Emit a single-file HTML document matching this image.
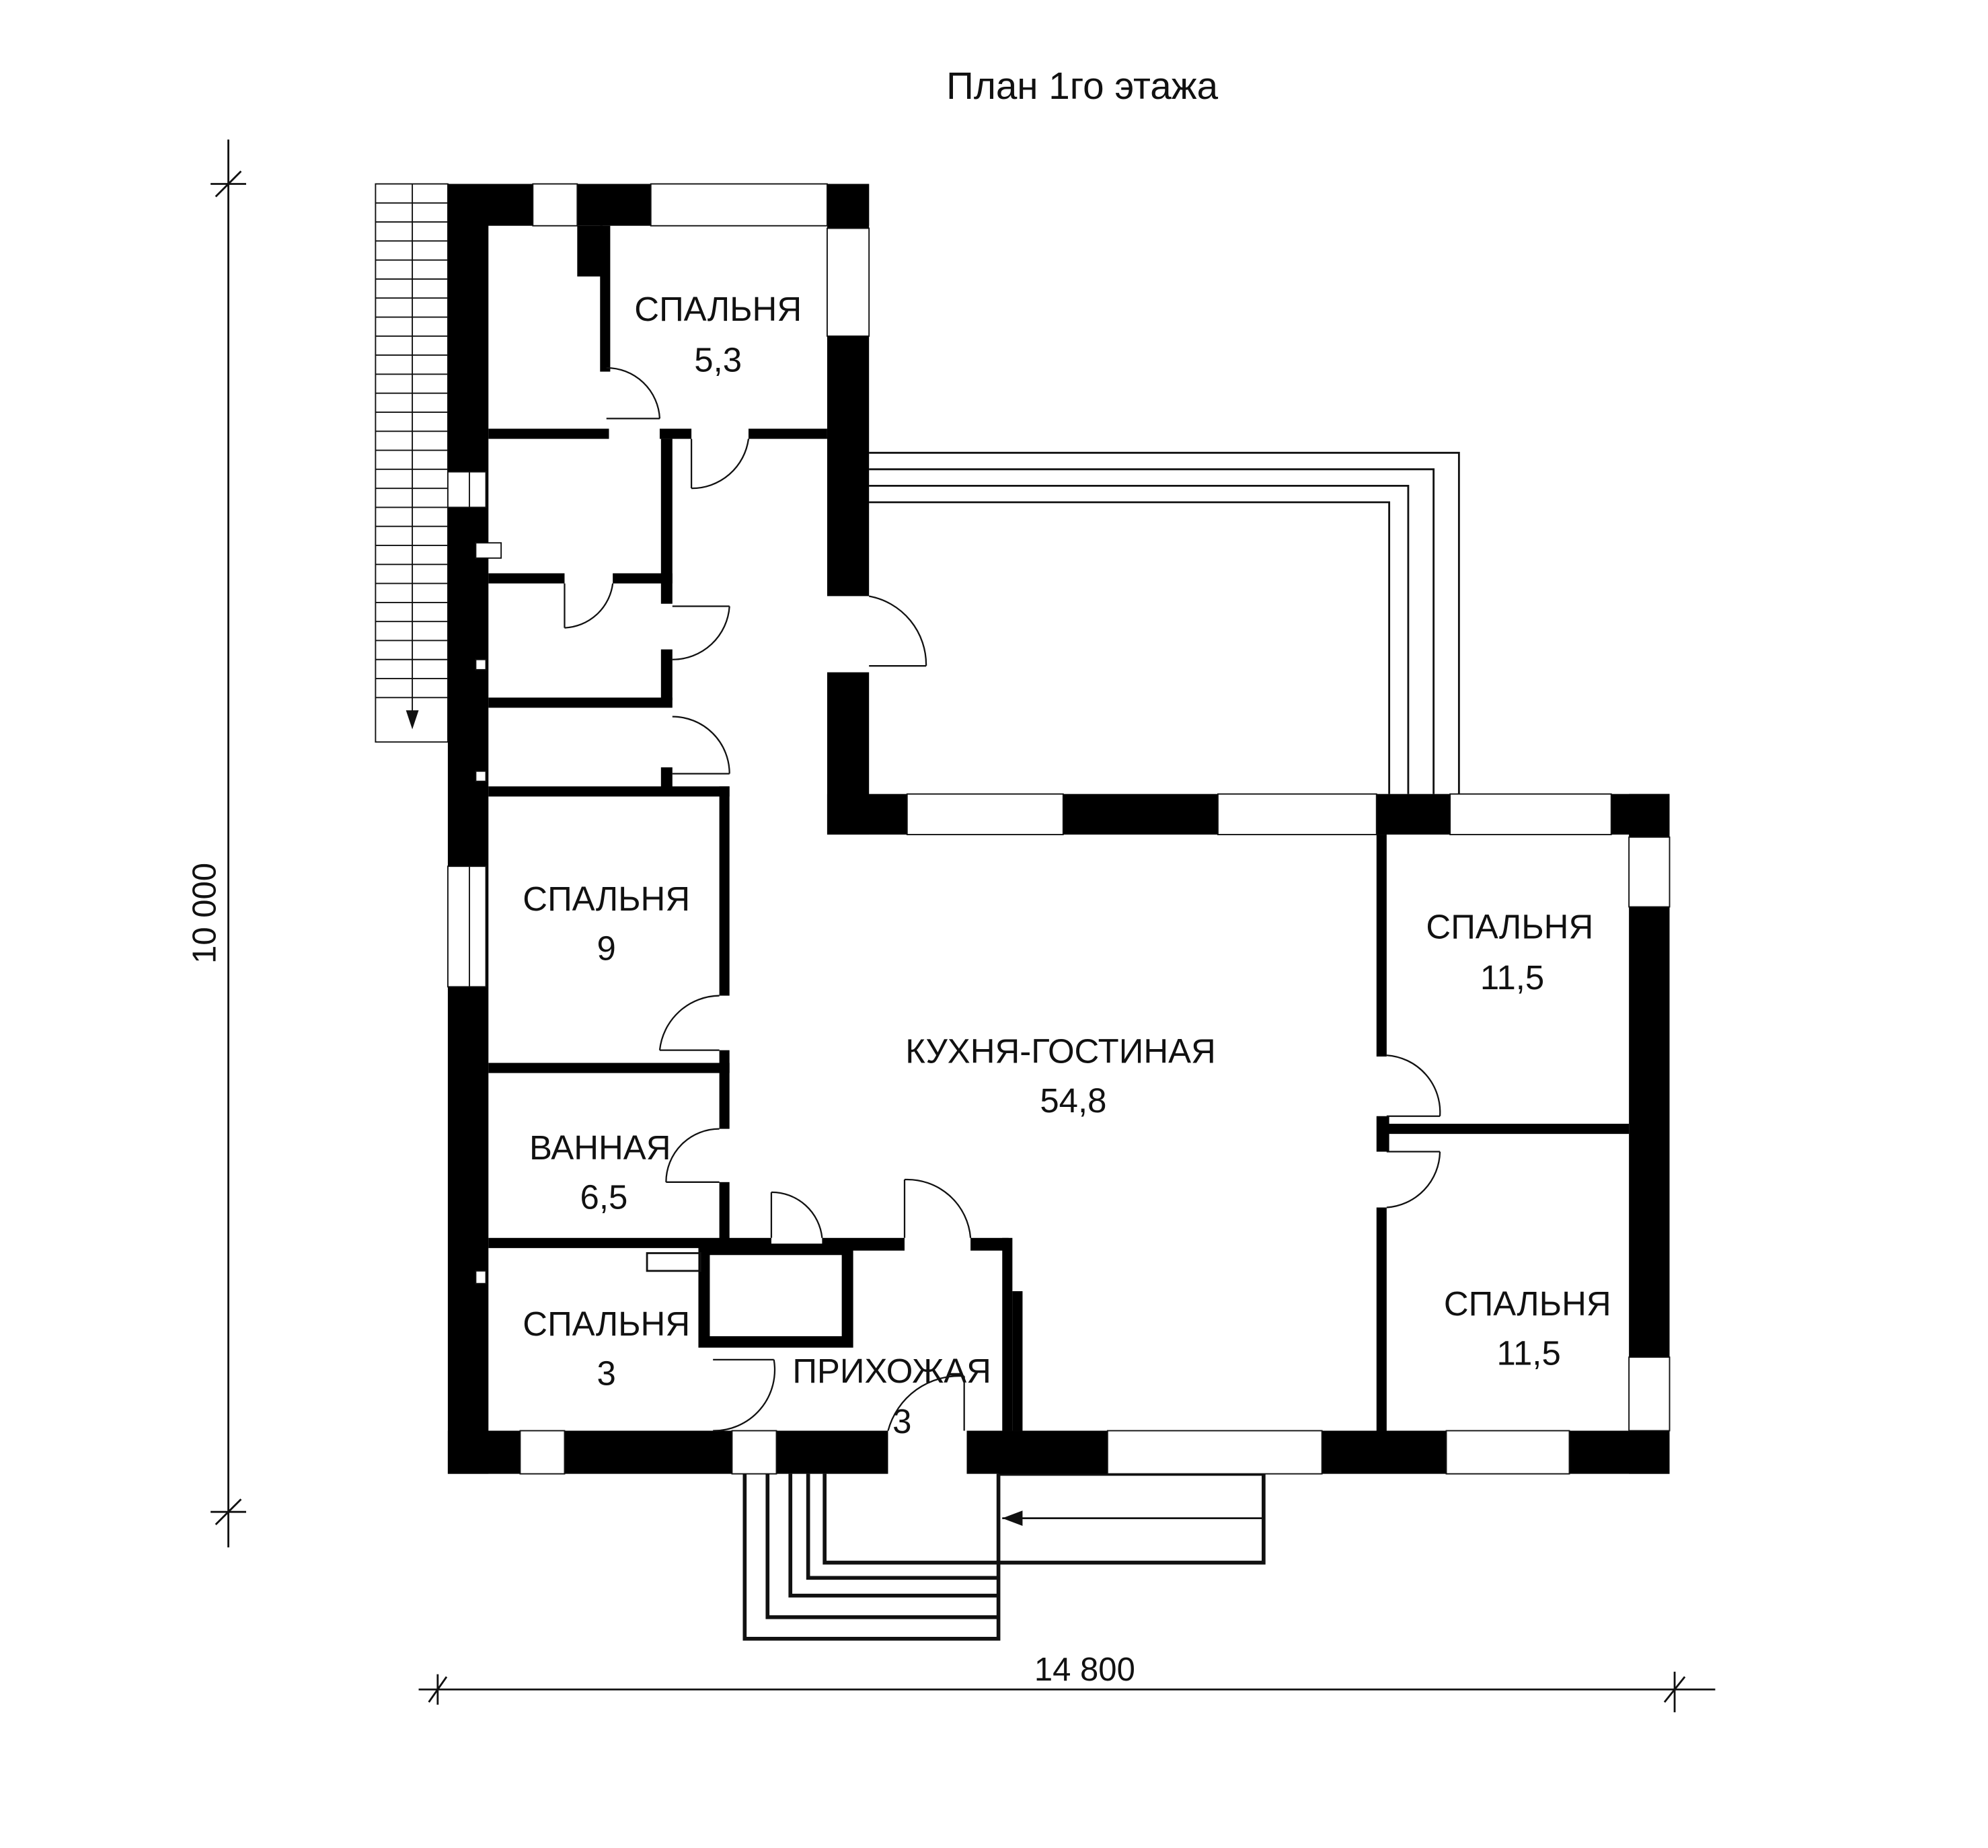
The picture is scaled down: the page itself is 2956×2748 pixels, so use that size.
<!DOCTYPE html>
<html><head><meta charset="utf-8"><style>
html,body{margin:0;padding:0;background:#fff}
svg{display:block}
text{font-family:"Liberation Sans","DejaVu Sans",sans-serif;fill:#111}
</style></head><body>
<svg width="2956" height="2748" viewBox="0 0 1567 1457" preserveAspectRatio="none" xmlns="http://www.w3.org/2000/svg">
<rect width="1570" height="1460" fill="#fff"/>
<text x="853" y="78" font-size="30" text-anchor="middle">План 1го этажа</text>

<g stroke="#111" stroke-width="1.5" fill="none">
<line x1="180" y1="110" x2="180" y2="1220"/>
<line x1="170" y1="155" x2="190" y2="135"/><line x1="166" y1="145" x2="194" y2="145"/>
<line x1="170" y1="1202" x2="190" y2="1182"/><line x1="166" y1="1192" x2="194" y2="1192"/>
<line x1="330" y1="1332" x2="1352" y2="1332"/>
<line x1="338" y1="1342" x2="352" y2="1322"/><line x1="345" y1="1320" x2="345" y2="1344"/>
<line x1="1312" y1="1342" x2="1328" y2="1322"/><line x1="1320" y1="1318" x2="1320" y2="1350"/>
</g>
<text x="855" y="1325" font-size="26" text-anchor="middle">14 800</text>
<text transform="translate(170,720) rotate(-90)" font-size="26" text-anchor="middle">10 000</text>

<g stroke="#111" stroke-width="1" fill="none">
<rect x="296" y="145" width="57" height="440"/>
<line x1="325" y1="145" x2="325" y2="570"/>
</g>
<g stroke="#111" stroke-width="1">
<line x1="296" y1="160" x2="353" y2="160"/><line x1="296" y1="175" x2="353" y2="175"/><line x1="296" y1="190" x2="353" y2="190"/><line x1="296" y1="205" x2="353" y2="205"/><line x1="296" y1="220" x2="353" y2="220"/><line x1="296" y1="235" x2="353" y2="235"/><line x1="296" y1="250" x2="353" y2="250"/><line x1="296" y1="265" x2="353" y2="265"/><line x1="296" y1="280" x2="353" y2="280"/><line x1="296" y1="295" x2="353" y2="295"/><line x1="296" y1="310" x2="353" y2="310"/><line x1="296" y1="325" x2="353" y2="325"/><line x1="296" y1="340" x2="353" y2="340"/><line x1="296" y1="355" x2="353" y2="355"/><line x1="296" y1="370" x2="353" y2="370"/><line x1="296" y1="385" x2="353" y2="385"/><line x1="296" y1="400" x2="353" y2="400"/><line x1="296" y1="415" x2="353" y2="415"/><line x1="296" y1="430" x2="353" y2="430"/><line x1="296" y1="445" x2="353" y2="445"/><line x1="296" y1="460" x2="353" y2="460"/><line x1="296" y1="475" x2="353" y2="475"/><line x1="296" y1="490" x2="353" y2="490"/><line x1="296" y1="505" x2="353" y2="505"/><line x1="296" y1="520" x2="353" y2="520"/><line x1="296" y1="535" x2="353" y2="535"/><line x1="296" y1="550" x2="353" y2="550"/>
</g>
<polygon points="320,560 330,560 325,575" fill="#111"/>

<g stroke="#111" stroke-width="1.5" fill="none">
<polyline points="685,357 1150,357 1150,626"/>
<polyline points="685,370 1130,370 1130,626"/>
<polyline points="685,383 1110,383 1110,626"/>
<polyline points="685,396 1095,396 1095,626"/>
</g>

<g stroke="#111" stroke-width="3" fill="none">
<polyline points="587,1162 587,1292 787,1292 787,1162"/>
<polyline points="605,1162 605,1275 787,1275"/>
<polyline points="623,1162 623,1258 787,1258"/>
<polyline points="637,1162 637,1244 787,1244"/>
<polyline points="650,1162 650,1232 996,1232 996,1162 787,1162"/>
<line x1="790" y1="1197" x2="996" y2="1197" stroke-width="1.5"/>
</g>
<polygon points="790,1197 806,1191 806,1203" fill="#111"/>

<g fill="#000">
<rect x="353" y="145" width="32" height="1017"/>
<rect x="353" y="145" width="332" height="33"/>
<rect x="652" y="145" width="33" height="325"/>
<rect x="652" y="530" width="33" height="128"/>
<rect x="652" y="626" width="664" height="32"/>
<rect x="1284" y="626" width="32" height="536"/>
<rect x="353" y="1128" width="347" height="34"/>
<rect x="762" y="1128" width="554" height="34"/>
</g>
<g fill="#fff" stroke="#111" stroke-width="1">
<rect x="420" y="145" width="35" height="33"/>
<rect x="513" y="145" width="139" height="33"/>
<rect x="652" y="180" width="33" height="85"/>
<rect x="715" y="626" width="123" height="32"/>
<rect x="960" y="626" width="125" height="32"/>
<rect x="1143" y="626" width="127" height="32"/>
<rect x="1284" y="660" width="32" height="55"/>
<rect x="1284" y="1070" width="32" height="58"/>
<rect x="410" y="1128" width="35" height="34"/>
<rect x="577" y="1128" width="35" height="34"/>
<rect x="873" y="1128" width="169" height="34"/>
<rect x="1140" y="1128" width="97" height="34"/>
<rect x="353" y="372" width="30" height="28"/>
<rect x="353" y="683" width="30" height="95"/>
</g>
<rect x="652" y="470" width="33" height="60" fill="#fff"/>
<rect x="700" y="1128" width="62" height="34" fill="#fff"/>
<line x1="370" y1="683" x2="370" y2="778" stroke="#111" stroke-width="1"/>
<line x1="370" y1="372" x2="370" y2="400" stroke="#111" stroke-width="1"/>
<g fill="#fff" stroke="#111"><rect x="375" y="428" width="20" height="12"/><rect x="375" y="520" width="8" height="8"/><rect x="375" y="608" width="8" height="8"/><rect x="375" y="1002" width="8" height="10"/></g>

<g fill="#000">
<rect x="455" y="178" width="20" height="40"/>
<rect x="473" y="178" width="8" height="115"/>
<rect x="385" y="338" width="95" height="8"/>
<rect x="520" y="338" width="25" height="8"/>
<rect x="590" y="338" width="62" height="8"/>
<rect x="521" y="346" width="9" height="130"/>
<rect x="521" y="512" width="9" height="40"/>
<rect x="385" y="452" width="60" height="8"/>
<rect x="483" y="452" width="47" height="8"/>
<rect x="385" y="550" width="145" height="8"/>
<rect x="521" y="605" width="9" height="20"/>
<rect x="385" y="620" width="190" height="8"/>
<rect x="567" y="620" width="8" height="165"/>
<rect x="385" y="838" width="190" height="8"/>
<rect x="567" y="828" width="8" height="62"/>
<rect x="567" y="932" width="8" height="50"/>
<rect x="385" y="976" width="185" height="8"/>
<rect x="570" y="976" width="38" height="8"/>
<rect x="648" y="976" width="65" height="10"/>
<rect x="765" y="976" width="30" height="10"/>
<rect x="790" y="976" width="8" height="152"/>
<rect x="798" y="1018" width="8" height="110"/>
<rect x="1085" y="658" width="8" height="175"/>
<rect x="1085" y="880" width="10" height="28"/>
<rect x="1085" y="952" width="8" height="176"/>
<rect x="1093" y="886" width="191" height="8"/>
</g>
<rect x="555" y="985" width="113" height="73" fill="none" stroke="#000" stroke-width="9"/>
<rect x="510" y="988" width="42" height="14" fill="none" stroke="#111" stroke-width="1.5"/>

<g stroke="#111" stroke-width="1.2" fill="none">
<path d="M478,290 A42,42 0 0 1 520,330"/><line x1="478" y1="330" x2="520" y2="330"/>
<path d="M545,385 A45,45 0 0 0 590,346"/><line x1="545" y1="346" x2="545" y2="385"/>
<path d="M445,495 A40,40 0 0 0 483,460"/><line x1="445" y1="460" x2="445" y2="495"/>
<path d="M530,520 A45,45 0 0 0 575,478"/><line x1="530" y1="478" x2="575" y2="478"/>
<path d="M530,565 A45,45 0 0 1 575,610"/><line x1="530" y1="610" x2="575" y2="610"/>
<path d="M685,470 A55,55 0 0 1 730,525"/><line x1="685" y1="525" x2="730" y2="525"/>
<path d="M520,828 A48,48 0 0 1 567,785"/><line x1="520" y1="828" x2="567" y2="828"/>
<path d="M525,932 A42,42 0 0 1 567,890"/><line x1="525" y1="932" x2="567" y2="932"/>
<path d="M608,940 A40,40 0 0 1 648,976"/><line x1="608" y1="940" x2="608" y2="976"/>
<path d="M713,930 A50,50 0 0 1 765,976"/><line x1="713" y1="930" x2="713" y2="976"/>
<path d="M562,1128 A48,48 0 0 0 610,1072"/><line x1="562" y1="1072" x2="610" y2="1072"/>
<path d="M700,1128 A58,58 0 0 1 760,1085"/><line x1="760" y1="1085" x2="760" y2="1128"/>
<path d="M1093,832 A45,45 0 0 1 1135,880"/><line x1="1093" y1="880" x2="1135" y2="880"/>
<path d="M1093,952 A45,45 0 0 0 1135,908"/><line x1="1093" y1="908" x2="1135" y2="908"/>
</g>

<g font-size="27" text-anchor="middle">
<text x="566" y="253">СПАЛЬНЯ</text><text x="566" y="293">5,3</text>
<text x="478" y="718">СПАЛЬНЯ</text><text x="478" y="757">9</text>
<text x="836" y="838">КУХНЯ-ГОСТИНАЯ</text><text x="846" y="877">54,8</text>
<text x="1190" y="740">СПАЛЬНЯ</text><text x="1192" y="780">11,5</text>
<text x="473" y="914">ВАННАЯ</text><text x="476" y="953">6,5</text>
<text x="478" y="1053">СПАЛЬНЯ</text><text x="478" y="1092">3</text>
<text x="703" y="1090">ПРИХОЖАЯ</text><text x="711" y="1130">3</text>
<text x="1204" y="1037">СПАЛЬНЯ</text><text x="1205" y="1076">11,5</text>
</g>
</svg>
</body></html>
